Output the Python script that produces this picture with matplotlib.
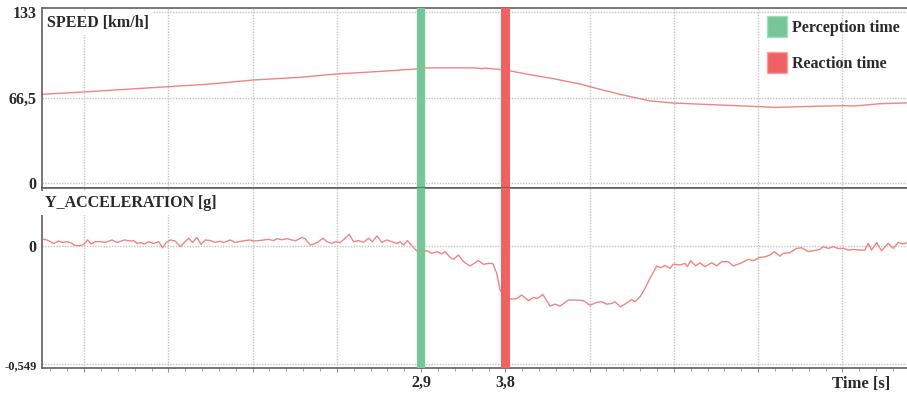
import matplotlib.pyplot as plt
from matplotlib.patches import Patch
from matplotlib.ticker import MultipleLocator, FuncFormatter

plt.rcParams['font.family'] = ['Liberation Serif', 'DejaVu Serif']
plt.rcParams['font.weight'] = 'bold'

# event times [s]
perception_t = 2.9
reaction_t = 3.8

# speed [km/h]
speed_t = [-1.15, -0.71, 0.19, 0.65, 1.10, 1.61, 1.99, 2.46, 2.84, 2.95, 3.30, 3.48,
           3.55, 3.58, 3.80, 4.06, 4.33, 4.60, 4.81, 5.03, 5.35, 5.60, 6.09, 6.52,
           6.68, 6.95, 7.41, 7.53, 7.80, 8.09]
speed_v = [69.2, 71.0, 75.1, 77.2, 80.3, 82.4, 85.0, 87.0, 88.9, 89.7, 89.8, 89.7,
           89.2, 89.6, 88.1, 84.5, 81.1, 77.2, 73.1, 69.1, 64.0, 62.4, 60.9, 59.6,
           59.0, 59.6, 60.4, 60.1, 61.9, 62.5]

# lateral acceleration [g]
acc_t = [-1.132, -1.097, -1.025, -0.972, -0.936, -0.883, -0.829, -0.794, -0.740, -0.705,
         -0.662, -0.627, -0.580, -0.527, -0.474, -0.402, -0.349, -0.271, -0.207, -0.171,
         -0.136, -0.093, -0.057, -0.011, 0.042, 0.096, 0.138, 0.177, 0.220, 0.274,
         0.327, 0.370, 0.416, 0.459, 0.505, 0.548, 0.594, 0.647, 0.701, 0.754,
         0.790, 0.861, 0.914, 0.968, 1.021, 1.074, 1.110, 1.163, 1.217, 1.270,
         1.323, 1.359, 1.412, 1.466, 1.519, 1.555, 1.590, 1.626, 1.662, 1.715,
         1.751, 1.804, 1.850, 1.893, 1.946, 1.982, 2.035, 2.089, 2.131, 2.178,
         2.231, 2.284, 2.338, 2.380, 2.427, 2.480, 2.533, 2.587, 2.640, 2.676,
         2.711, 2.754, 2.800, 2.854, 2.907, 2.961, 3.014, 3.067, 3.121, 3.156,
         3.210, 3.245, 3.299, 3.352, 3.423, 3.512, 3.566, 3.619, 3.665, 3.708,
         3.743, 3.797, 3.868, 3.921, 3.975, 4.046, 4.099, 4.142, 4.199, 4.277,
         4.331, 4.384, 4.473, 4.562, 4.633, 4.704, 4.775, 4.829, 4.882, 4.936,
         4.971, 5.025, 5.078, 5.149, 5.185, 5.238, 5.291, 5.345, 5.416, 5.459,
         5.505, 5.558, 5.594, 5.665, 5.718, 5.743, 5.779, 5.832, 5.879, 5.932,
         6.003, 6.057, 6.110, 6.181, 6.234, 6.306, 6.395, 6.448, 6.519, 6.573,
         6.626, 6.672, 6.733, 6.768, 6.839, 6.911, 6.964, 7.035, 7.089, 7.160,
         7.195, 7.249, 7.302, 7.355, 7.409, 7.462, 7.516, 7.587, 7.640, 7.676,
         7.711, 7.765, 7.818, 7.889, 7.943, 7.996, 8.049, 8.088]
acc_g = [0.031, 0.028, 0.012, 0.023, 0.017, 0.020, 0.012, 0.002, 0.002, 0.008,
         0.028, 0.009, 0.020, 0.020, 0.017, 0.028, 0.016, 0.028, 0.023, 0.025,
         0.012, 0.016, 0.009, 0.020, 0.012, 0.020, -0.008, 0.016, 0.028, 0.023,
         -0.003, 0.016, 0.036, 0.016, 0.040, 0.008, 0.028, 0.025, 0.017, 0.022,
         0.016, 0.028, 0.016, 0.022, 0.025, 0.028, 0.023, 0.025, 0.028, 0.031,
         0.025, 0.034, 0.029, 0.034, 0.028, 0.025, 0.031, 0.040, 0.033, 0.005,
         0.008, 0.020, 0.036, 0.020, 0.012, 0.020, 0.016, 0.036, 0.054, 0.020,
         0.025, 0.017, 0.036, 0.020, 0.047, 0.017, 0.028, 0.020, 0.012, 0.020,
         0.005, 0.025, 0.002, -0.023, -0.026, -0.022, -0.034, -0.026, -0.037, -0.026,
         -0.053, -0.062, -0.042, -0.073, -0.093, -0.068, -0.085, -0.081, -0.081, -0.127,
         -0.205, -0.236, -0.247, -0.244, -0.228, -0.254, -0.239, -0.244, -0.225, -0.279,
         -0.270, -0.279, -0.251, -0.251, -0.254, -0.275, -0.262, -0.259, -0.270, -0.267,
         -0.259, -0.282, -0.270, -0.248, -0.259, -0.236, -0.197, -0.150, -0.093, -0.101,
         -0.090, -0.104, -0.084, -0.088, -0.081, -0.096, -0.068, -0.092, -0.078, -0.096,
         -0.078, -0.092, -0.073, -0.073, -0.093, -0.081, -0.062, -0.068, -0.053, -0.050,
         -0.042, -0.026, -0.047, -0.034, -0.031, -0.011, -0.008, -0.026, -0.022, -0.016,
         -0.003, -0.011, -0.003, -0.012, -0.011, -0.019, -0.016, -0.019, -0.019, 0.012,
         -0.019, 0.016, -0.022, 0.012, -0.011, 0.016, 0.009, 0.016]

speed_ticks = [0, 66.5, 133]
speed_labels = ['0', '66,5', '133']
acc_ticks = [-0.549, 0]
acc_labels = ['-0,549', '0']

line_c = '#f08484'
green = '#76c69a'
red = '#f06262'
grid_c = '#c4c4c4'
spine_c = '#606060'
txt_c = '#2a2a2a'

W, H = 907, 396
fig = plt.figure(figsize=(W / 100, H / 100), dpi=100)
left = 42 / W
ax1 = fig.add_axes([left, 1 - 188.3 / H, 1 - left, 180 / H])
ax2 = fig.add_axes([left, 1 - 368.3 / H, 1 - left, 180 / H], sharex=ax1)

for ax in (ax1, ax2):
    for s in ax.spines.values():
        s.set_color(spine_c)
        s.set_linewidth(1.2)
    ax.spines['right'].set_visible(False)
    ax.xaxis.set_major_locator(MultipleLocator(0.9, offset=0.2))
    ax.xaxis.set_minor_locator(MultipleLocator(0.18, offset=0.02))
    ax.grid(True, which='major', color=grid_c, linestyle=(0, (1, 1)), linewidth=1)
    ax.tick_params(axis='y', length=0, pad=4, labelsize=11.5, labelcolor=txt_c)
    ax.axvline(perception_t, color=green, linewidth=6, zorder=3)
    ax.axvline(reaction_t, color=red, linewidth=6.5, zorder=3)

ax1.set_xlim(-1.15, 8.09)

# speed panel
ax1.plot(speed_t, speed_v, color=line_c, linewidth=1)
ax1.set_ylim(-3.9, 136.1)
ax1.set_yticks(speed_ticks, speed_labels)
ax1.tick_params(axis='x', which='both', length=0, labelbottom=False)
ax1.text(0.006, 0.92, 'SPEED [km/h]', transform=ax1.transAxes, fontsize=11.5,
         fontweight='bold', color=txt_c, va='center', ha='left',
         bbox=dict(facecolor='white', edgecolor='none', pad=3), zorder=4)

legend_handles = [Patch(facecolor=green, edgecolor='#a8dcbf', label='Perception time'),
                  Patch(facecolor=red, edgecolor='#f6a0a0', label='Reaction time')]
ax1.legend(handles=legend_handles, loc='upper left', bbox_to_anchor=(0.838, 0.955),
           frameon=False, borderpad=0, borderaxespad=0, handlelength=1.25,
           handleheight=1.6, handletextpad=0.35, labelspacing=0.95,
           prop={'family': 'Liberation Serif', 'weight': 'bold', 'size': 11.5},
           labelcolor=txt_c)

# acceleration panel
ax2.plot(acc_t, acc_g, color=line_c, linewidth=1)
ax2.set_ylim(-0.568, 0.268)
ax2.set_yticks(acc_ticks, acc_labels)
ax2.get_yticklabels()[0].set_fontsize(9)
ax2.text(0.004, 0.92, 'Y_ACCELERATION [g]', transform=ax2.transAxes, fontsize=11.5,
         fontweight='bold', color=txt_c, va='center', ha='left',
         bbox=dict(facecolor='white', edgecolor='none', pad=3), zorder=4)


def event_label(x, pos):
    for t in (perception_t, reaction_t):
        if abs(x - t) < 0.01:
            return f'{t:.1f}'.replace('.', ',')
    return ''


ax2.xaxis.set_major_formatter(FuncFormatter(event_label))
ax2.tick_params(axis='x', which='major', length=3, color='#909090', pad=2,
                labelsize=11.5, labelcolor=txt_c)
ax2.tick_params(axis='x', which='minor', length=2, color='#909090')
fig.text(890 / W, 1 - 384 / H, 'Time [s]', ha='right', va='center', fontsize=12,
         fontweight='bold', color=txt_c)

fig.savefig('out.png', dpi=100)
